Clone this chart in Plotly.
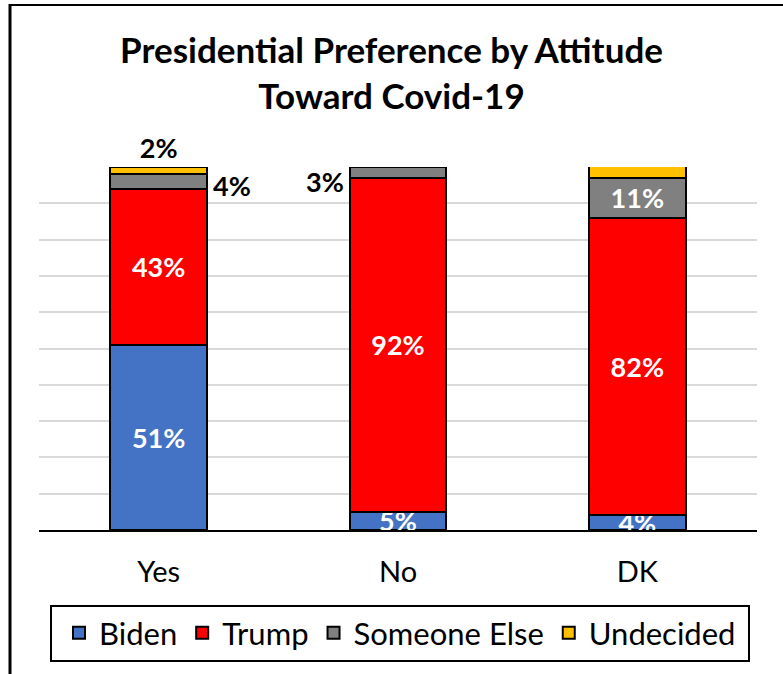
import plotly.graph_objects as go

categories = ["Yes", "No", "DK"]
biden = [51, 5, 4]
trump = [43, 92, 82]
someone_else = [4, 3, 11]
undecided = [2, 1, 4]

colors = {"Biden": "#4472C4", "Trump": "#FF0000", "Someone Else": "#808080", "Undecided": "#FFC000"}
FONT = "Lato"

def pct(vals):
    return [f"{v}%" for v in vals]

fig = go.Figure()
line = dict(color="black", width=2)
lab_font = dict(family=FONT, size=27, color="white", weight="bold")

fig.add_trace(go.Bar(name="Biden", x=categories, y=biden, marker=dict(color=colors["Biden"], line=line),
                     text=pct(biden), textposition="inside", textfont=lab_font, insidetextanchor="middle",
                     cliponaxis=True, constraintext="none", hoverinfo="skip"))
fig.add_trace(go.Bar(name="Trump", x=categories, y=trump, marker=dict(color=colors["Trump"], line=line),
                     text=pct(trump), textposition="inside", textfont=lab_font, insidetextanchor="middle",
                     constraintext="none", hoverinfo="skip"))
se_text = ["", "", f"{someone_else[2]}%"]
fig.add_trace(go.Bar(name="Someone Else", x=categories, y=someone_else, marker=dict(color=colors["Someone Else"], line=line),
                     text=se_text, textposition="inside", textfont=lab_font, insidetextanchor="middle",
                     constraintext="none", hoverinfo="skip"))
fig.add_trace(go.Bar(name="Undecided", x=categories, y=undecided, marker=dict(color=colors["Undecided"], line=line),
                     text=pct(undecided), textposition="outside",
                     textfont=dict(family=FONT, size=27, color="black", weight="bold"),
                     cliponaxis=False, constraintext="none", hoverinfo="skip"))

# side labels for "Someone Else" on Yes (right) and No (left)
side = [(0, "left", 52, -4), (1, "right", -52, -9)]
for idx, anchor, xs, ys in side:
    mid = biden[idx] + trump[idx] + someone_else[idx] / 2
    fig.add_annotation(x=categories[idx], y=mid, text=f"{someone_else[idx]}%", showarrow=False,
                       xanchor=anchor, xshift=xs, yshift=ys,
                       font=dict(family=FONT, size=27, color="black", weight="bold"))

L, R, T, B = 39, 757, 167, 530
def px(x):
    return (x - L) / (R - L)
def py(y):
    return (B - y) / (B - T)
# outer frame lines (left and top) of the original screenshot
fig.add_shape(type="line", xref="paper", yref="paper", x0=px(10), x1=px(10), y0=py(4), y1=py(680),
              line=dict(color="black", width=3))
fig.add_shape(type="line", xref="paper", yref="paper", x0=px(9), x1=px(790), y0=py(5), y1=py(5),
              line=dict(color="black", width=2))
# legend frame
fig.add_shape(type="rect", xref="paper", yref="paper", x0=px(51), x1=px(749), y0=py(606), y1=py(661),
              line=dict(color="black", width=2), fillcolor="rgba(0,0,0,0)")

fig.update_layout(
    barmode="stack",
    bargap=0.595,
    width=783, height=674,
    margin=dict(l=L, r=783 - R, t=T, b=674 - B, autoexpand=False),
    paper_bgcolor="white", plot_bgcolor="white",
    title=dict(text="<b>Presidential Preference by Attitude<br>Toward Covid-19</b>",
               x=0.5, xref="container", xanchor="center",
               y=1 - 63 / 674, yref="container", yanchor="top",
               font=dict(family=FONT, size=35, color="black")),
    font=dict(family=FONT, color="black"),
    showlegend=True,
    legend=dict(orientation="h", x=400 / 783, xref="container", xanchor="center",
                y=1 - 606 / 674, yref="container", yanchor="top",
                borderwidth=0, bgcolor="rgba(0,0,0,0)",
                font=dict(family=FONT, size=31, color="black"),
                traceorder="normal"),
    xaxis=dict(showline=True, linecolor="black", linewidth=2, ticks="", showgrid=False,
               ticklabelstandoff=15,
               tickfont=dict(family=FONT, size=29, color="black")),
    yaxis=dict(range=[0, 100], dtick=10, showticklabels=False, showgrid=True,
               gridcolor="#d9d9d9", gridwidth=2, zeroline=False, showline=False),
)

fig.write_html("out.html", config={"displayModeBar": False},
               post_script='document.body.style.margin="0";')
